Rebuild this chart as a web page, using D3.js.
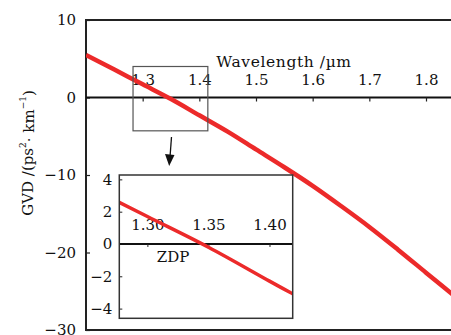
<!DOCTYPE html>
<html>
<head>
<meta charset="utf-8">
<script src="https://cdn.jsdelivr.net/npm/d3@7"></script>
<style>
  body { margin: 0; background: #fff; }
  svg { display: block; font-family: "DejaVu Serif", serif; }
</style>
</head>
<body>
<svg id="chart" width="451" height="335"></svg>
<script>
// GVD curve (wavelength in µm, GVD in ps²/km)
const wavelength = [1.20, 1.25, 1.30, 1.35, 1.40, 1.45, 1.50, 1.55, 1.60, 1.65, 1.70, 1.75, 1.80, 1.85];
const gvd = [5.5, 3.6, 1.7, -0.2, -2.3, -4.4, -6.7, -9.0, -11.4, -14.0, -16.7, -19.6, -22.6, -25.6];

const xTicks = [1.3, 1.4, 1.5, 1.6, 1.7, 1.8];
const yTicks = [10, 0, -10, -20, -30];
const insetXTicks = [1.30, 1.35, 1.40];
const insetYTicks = [4, 2, 0, -2, -4];
const insetXDomain = [1.277, 1.419];
const insetYDomain = [-4.6, 4.27];
const zoomBoxX = [1.283, 1.415];
const zoomBoxY = [-4.3, 4.0];

const points = wavelength.map((w, i) => ({ w: w, g: gvd[i] }));
const red = "#ec2a2a";

const svg = d3.select("#chart");

const x = d3.scaleLinear().domain([1.2, 1.8]).range([86, 426]);
const y = d3.scaleLinear().domain([-30, 10]).range([330, 20]);

svg.append("defs").append("clipPath")
    .attr("id", "main-clip")
  .append("rect")
    .attr("x", 86).attr("y", 20)
    .attr("width", 400).attr("height", 310);

// frame
svg.append("path")
    .attr("d", "M460,20H86V330H460")
    .attr("fill", "none")
    .attr("stroke", "#222")
    .attr("stroke-width", 2);

// y axis
const yAxis = svg.append("g")
    .attr("transform", "translate(86,0)")
    .call(d3.axisLeft(y).tickValues(yTicks).tickSize(-4).tickPadding(10));
yAxis.select(".domain").remove();
yAxis.selectAll("line").attr("stroke", "#222").attr("stroke-width", 1.2);
yAxis.selectAll("text").attr("font-size", 15).attr("fill", "#111").attr("font-family", "DejaVu Serif");

// x axis along GVD = 0
const xAxis = svg.append("g")
    .attr("transform", `translate(0,${y(0)})`)
    .call(d3.axisBottom(x).tickValues(xTicks).tickSize(4).tickFormat(d3.format(".1f")));
xAxis.select(".domain").attr("d", `M86,0H451`).attr("stroke", "#111").attr("stroke-width", 2);
xAxis.selectAll("line").attr("stroke", "#222").attr("stroke-width", 1.2);
xAxis.selectAll("text")
    .attr("y", -17).attr("dy", "0.32em")
    .attr("font-size", 15).attr("fill", "#111").attr("font-family", "DejaVu Serif");

svg.append("text")
    .attr("x", 284).attr("y", 61.5).attr("dy", "0.35em")
    .attr("text-anchor", "middle")
    .attr("font-size", 15.5)
    .attr("letter-spacing", 0.6)
    .attr("fill", "#111")
    .text("Wavelength /µm");

// y label
const yLabel = svg.append("text")
    .attr("transform", "translate(28,153) rotate(-90)")
    .attr("text-anchor", "middle")
    .attr("dy", "0.35em")
    .attr("font-size", 15)
    .attr("fill", "#111");
yLabel.append("tspan").text("GVD /(ps");
yLabel.append("tspan").attr("font-size", 9).attr("dy", "-0.8em").text("2");
yLabel.append("tspan").attr("dy", "0.5em").text("· km");
yLabel.append("tspan").attr("font-size", 9).attr("dy", "-0.8em").text("−1");
yLabel.append("tspan").attr("dy", "0.5em").text(")");

const line = d3.line()
    .x(d => x(d.w))
    .y(d => y(d.g))
    .curve(d3.curveMonotoneX);

svg.append("path")
    .datum(points)
    .attr("clip-path", "url(#main-clip)")
    .attr("d", line)
    .attr("fill", "none")
    .attr("stroke", red)
    .attr("stroke-width", 4.5);

// zoom box
svg.append("rect")
    .attr("x", x(zoomBoxX[0]))
    .attr("y", y(zoomBoxY[1]))
    .attr("width", x(zoomBoxX[1]) - x(zoomBoxX[0]))
    .attr("height", y(zoomBoxY[0]) - y(zoomBoxY[1]))
    .attr("fill", "none")
    .attr("stroke", "#555")
    .attr("stroke-width", 1.2);

// arrow
svg.append("line")
    .attr("x1", 171.5).attr("y1", 137)
    .attr("x2", 170).attr("y2", 157)
    .attr("stroke", "#111").attr("stroke-width", 1.3);
svg.append("path")
    .attr("d", "M165,154L174.5,155L169.2,166Z")
    .attr("fill", "#111");

// inset
const ix = d3.scaleLinear().domain(insetXDomain).range([119.3, 292.7]);
const iy = d3.scaleLinear().domain(insetYDomain).range([318.3, 175]);

const inset = svg.append("g");
inset.append("clipPath")
    .attr("id", "inset-clip")
  .append("rect")
    .attr("x", 119.3).attr("y", 175)
    .attr("width", 173.4).attr("height", 143.3);

inset.append("rect")
    .attr("x", 119.3).attr("y", 175)
    .attr("width", 173.4).attr("height", 143.3)
    .attr("fill", "#fff");

const iyAxis = inset.append("g")
    .attr("transform", "translate(119.3,0)")
    .call(d3.axisLeft(iy).tickValues(insetYTicks).tickSize(-3).tickPadding(7));
iyAxis.select(".domain").remove();
iyAxis.selectAll("line").attr("stroke", "#222");
iyAxis.selectAll("text").attr("font-size", 15).attr("fill", "#111").attr("font-family", "DejaVu Serif");

const ixAxis = inset.append("g")
    .attr("transform", `translate(0,${iy(0)})`)
    .call(d3.axisBottom(ix).tickValues(insetXTicks).tickSize(3).tickFormat(d3.format(".2f")));
ixAxis.select(".domain").attr("d", "M119.3,0H292.7").attr("stroke", "#111").attr("stroke-width", 1.8);
ixAxis.selectAll("line").attr("stroke", "#222");
ixAxis.selectAll("text")
    .attr("y", -19).attr("dy", "0.32em")
    .attr("font-size", 15).attr("fill", "#111").attr("font-family", "DejaVu Serif");

const insetLine = d3.line()
    .x(d => ix(d.w))
    .y(d => iy(d.g))
    .curve(d3.curveMonotoneX);

inset.append("path")
    .datum(points)
    .attr("clip-path", "url(#inset-clip)")
    .attr("d", insetLine)
    .attr("fill", "none")
    .attr("stroke", red)
    .attr("stroke-width", 3.5);

inset.append("rect")
    .attr("x", 119.3).attr("y", 175)
    .attr("width", 173.4).attr("height", 143.3)
    .attr("fill", "none")
    .attr("stroke", "#333")
    .attr("stroke-width", 1.5);

inset.append("text")
    .attr("x", 173).attr("y", 257).attr("dy", "0.35em")
    .attr("text-anchor", "middle")
    .attr("font-size", 15)
    .attr("fill", "#111")
    .text("ZDP");
</script>
</body>
</html>
